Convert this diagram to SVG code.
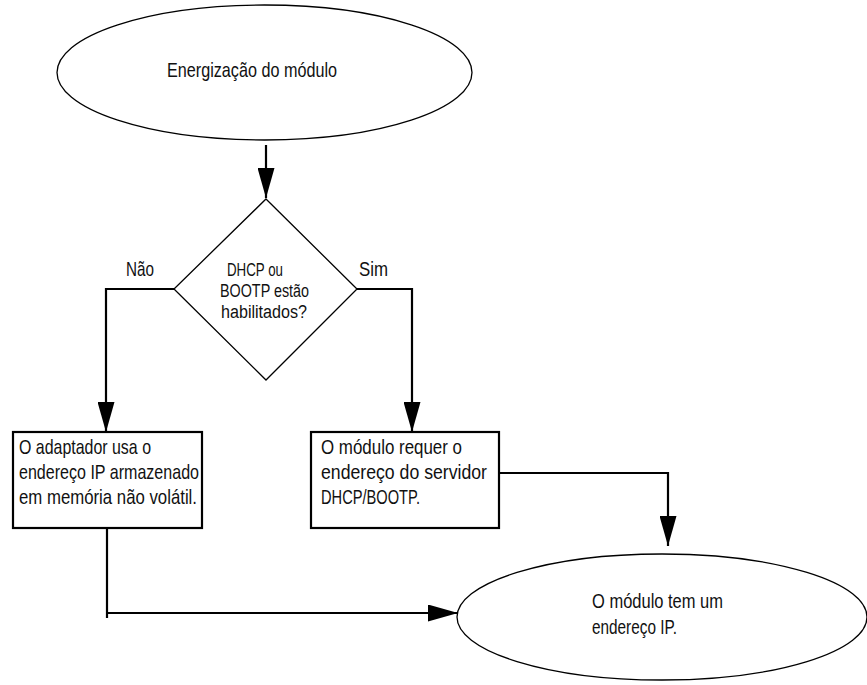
<svg xmlns="http://www.w3.org/2000/svg" width="867" height="685" viewBox="0 0 867 685">
<style>
text{font-family:"Liberation Sans",Arial,sans-serif;font-size:21px;fill:#111}
text.d{font-size:18px}
.ell{fill:#fff;stroke:#000;stroke-width:1.3}
.box{fill:#fff;stroke:#000;stroke-width:2.2}
.con{fill:none;stroke:#000;stroke-width:2.2}
</style>
<defs>
<marker id="ah" markerUnits="userSpaceOnUse" markerWidth="30" markerHeight="17" viewBox="0 0 30 17" refX="30" refY="8.5" orient="auto">
<path d="M0,0 L30,8.5 L0,17 Z" fill="#000"/>
</marker>
</defs>
<g id="start">
<ellipse class="ell" cx="264.5" cy="72.5" rx="207.5" ry="67.5"/>
<text x="167" y="77" textLength="170" lengthAdjust="spacingAndGlyphs">Energização do módulo</text>
</g>
<g id="decision">
<polygon class="ell" points="266,199 357,289 266,380 174,289"/>
<text class="d" x="227" y="276" textLength="56" lengthAdjust="spacingAndGlyphs">DHCP ou</text>
<text class="d" x="220" y="297" textLength="89" lengthAdjust="spacingAndGlyphs">BOOTP estão</text>
<text class="d" x="221" y="318" textLength="86" lengthAdjust="spacingAndGlyphs">habilitados?</text>
</g>
<g id="labels">
<text x="126" y="276" textLength="28" lengthAdjust="spacingAndGlyphs">Não</text>
<text x="359" y="276" textLength="29" lengthAdjust="spacingAndGlyphs">Sim</text>
</g>
<g id="stored">
<rect class="box" x="13" y="432" width="189" height="96"/>
<text x="19" y="454" textLength="132" lengthAdjust="spacingAndGlyphs">O adaptador usa o</text>
<text x="19" y="479" textLength="180" lengthAdjust="spacingAndGlyphs">endereço IP armazenado</text>
<text x="19" y="504" textLength="178" lengthAdjust="spacingAndGlyphs">em memória não volátil.</text>
</g>
<g id="request">
<rect class="box" x="311" y="432" width="188" height="96"/>
<text x="321" y="454" textLength="141" lengthAdjust="spacingAndGlyphs">O módulo requer o</text>
<text x="321" y="479" textLength="166" lengthAdjust="spacingAndGlyphs">endereço do servidor</text>
<text x="321" y="504" textLength="99" lengthAdjust="spacingAndGlyphs">DHCP/BOOTP.</text>
</g>
<g id="end">
<ellipse class="ell" cx="662" cy="617" rx="205" ry="63"/>
<text x="592" y="608" textLength="131" lengthAdjust="spacingAndGlyphs">O módulo tem um</text>
<text x="592" y="634" textLength="85" lengthAdjust="spacingAndGlyphs">endereço IP.</text>
</g>
<g id="connectors">
<path class="con" d="M266,145 L266,198" marker-end="url(#ah)"/>
<path class="con" d="M174,289 L106,289 L106,432" marker-end="url(#ah)"/>
<path class="con" d="M357,289 L412,289 L412,432" marker-end="url(#ah)"/>
<path class="con" d="M499,473 L668,473 L668,546" marker-end="url(#ah)"/>
<path class="con" d="M107,528 L107,618"/>
<path class="con" d="M107,613 L458,613" marker-end="url(#ah)"/>
</g>
</svg>
